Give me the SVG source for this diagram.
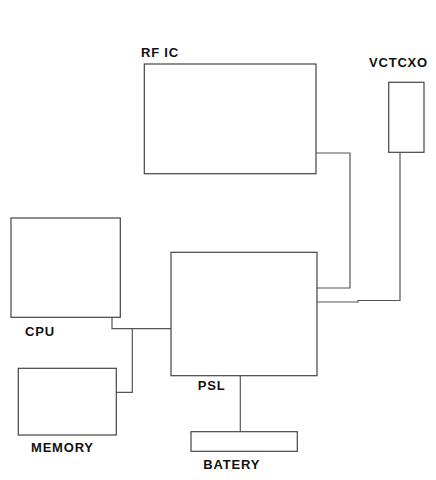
<svg xmlns="http://www.w3.org/2000/svg" width="436" height="480" viewBox="0 0 436 480">
<style>
.box{fill:#fff;stroke:#444;stroke-width:1.2}
.lbl{font-family:"Liberation Sans",Arial,sans-serif;font-weight:bold;font-size:13px;letter-spacing:0.8px;fill:#111}
.wire{fill:none;stroke:#555;stroke-width:1.2}
</style>
<rect width="436" height="480" fill="#fff"/>
<g id="connectors">
<polyline class="wire" points="316,153 350,153 350,288 317,288"/>
<polyline class="wire" points="400,152 400,300.5 358,300.5 358,302 317,302"/>
<polyline class="wire" points="112,317 112,328.7 171,328.7"/>
<polyline class="wire" points="132.3,328.7 132.3,392.3 116.3,392.3"/>
<line class="wire" x1="240.3" y1="376" x2="240.3" y2="431.7"/>
</g>
<g id="rfic">
<rect class="box" x="144.3" y="64" width="171.7" height="109.7"/>
<text class="lbl" x="141" y="57.3">RF IC</text>
</g>
<g id="vctcxo">
<rect class="box" x="388.7" y="82.3" width="35.3" height="70"/>
<text class="lbl" x="369" y="67.3">VCTCXO</text>
</g>
<g id="cpu">
<rect class="box" x="11" y="218" width="109.3" height="99.3"/>
<text class="lbl" x="25" y="336">CPU</text>
</g>
<g id="psl">
<rect class="box" x="171" y="252.3" width="146" height="123.4"/>
<text class="lbl" x="197.7" y="390.3">PSL</text>
</g>
<g id="memory">
<rect class="box" x="18.3" y="368.3" width="98" height="66.7"/>
<text class="lbl" x="31" y="451.7">MEMORY</text>
</g>
<g id="batery">
<rect class="box" x="191" y="431.7" width="106.3" height="19.6"/>
<text class="lbl" x="203.3" y="469">BATERY</text>
</g>
</svg>
